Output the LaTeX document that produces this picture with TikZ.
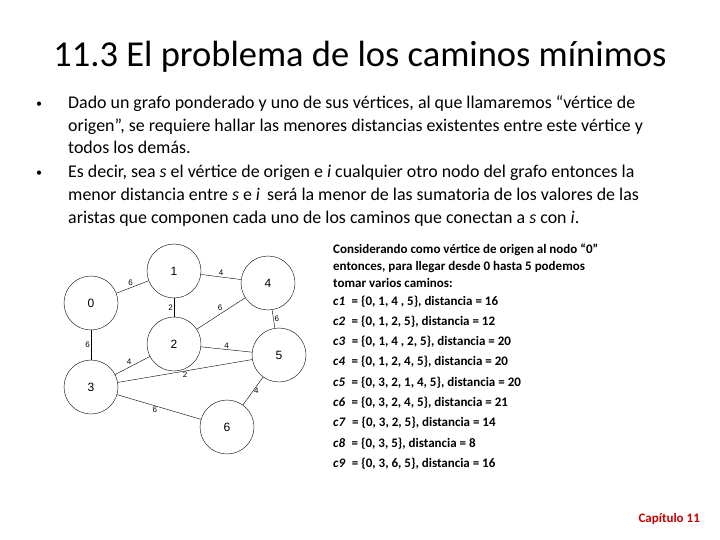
\documentclass[tikz,border=0pt]{standalone}
\usepackage{fontspec}
\setmainfont{Carlito}
\begin{document}
\begin{tikzpicture}[x=1pt,y=-1pt,
  vtx/.style={circle,draw,thin,minimum size=54pt,inner sep=0pt,font=\fontspec{Liberation Sans}\fontsize{12}{12}\selectfont},
  wl/.style={font=\fontspec{Liberation Sans}\fontsize{8}{8}\selectfont,inner sep=1pt},
  body/.style={anchor=base west,inner sep=0pt,font=\fontsize{17.9}{18}\selectfont},
  rt/.style={anchor=base west,inner sep=0pt,font=\bfseries\fontsize{13}{13}\selectfont}]
\useasboundingbox (0,0) rectangle (720,540);
\node[font=\fontsize{36.5}{37}\selectfont] (title) at (360,57) {11.3 El problema de los caminos mínimos};
\node[anchor=base west,inner sep=0pt,font=\fontsize{12}{12}\selectfont] (b1) at (36,108) {•};
\node[body] (l1) at (68,109) {Dado un grafo ponderado y uno de sus vértices, al que llamaremos “vértice de};
\node[body] (l2) at (68,132) {origen”, se requiere hallar las menores distancias existentes entre este vértice y};
\node[body] (l3) at (68,154) {todos los demás.};
\node[anchor=base west,inner sep=0pt,font=\fontsize{12}{12}\selectfont] (b2) at (36,177) {•};
\node[body] (l4) at (68,178) {Es decir, sea \textit{s} el vértice de origen e \textit{i} cualquier otro nodo del grafo entonces la};
\node[body] (l5) at (68,201) {menor distancia entre \textit{s} e \textit{i}\, será la menor de las sumatoria de los valores de las};
\node[body] (l6) at (68,224) {aristas que componen cada uno de los caminos que conectan a \textit{s} con \textit{i}.};

\node[vtx] (n0) at (91,303) {0};
\node[vtx] (n1) at (174,271) {1};
\node[vtx] (n4) at (268,283) {4};
\node[vtx] (n2) at (174,344) {2};
\node[vtx] (n5) at (279,355) {5};
\node[vtx] (n3) at (91,387) {3};
\node[vtx] (n6) at (227,427) {6};
\draw (n0) -- node[wl,above left,pos=.55]{6} (n1);
\draw (n1) -- node[wl,above]{4} (n4);
\draw (n1) -- node[wl,left]{2} (n2);
\draw (n2) -- node[wl,above left,pos=.55]{6} (n4);
\draw (n4) -- node[wl,right]{6} (n5);
\draw (n0) -- node[wl,left]{6} (n3);
\draw (n3) -- node[wl,above left]{4} (n2);
\draw (n2) -- node[wl,above]{4} (n5);
\draw (n3) -- node[wl,below]{2} (n5);
\draw (n5) -- node[wl,right]{4} (n6);
\draw (n3) -- node[wl,below,pos=.45]{6} (n6);

\node[rt] (r1) at (333,253) {Considerando como vértice de origen al nodo “0”};
\node[rt] (r2) at (333,270) {entonces, para llegar desde 0 hasta 5 podemos};
\node[rt] (r3) at (333,287) {tomar varios caminos:};
\node[rt] (c1) at (333,305.0) {\textit{c1}\; = \{0, 1, 4 , 5\}, distancia = 16};
\node[rt] (c2) at (333,325.3) {\textit{c2}\; = \{0, 1, 2, 5\}, distancia = 12};
\node[rt] (c3) at (333,345.6) {\textit{c3}\; = \{0, 1, 4 , 2, 5\}, distancia = 20};
\node[rt] (c4) at (333,365.9) {\textit{c4}\; = \{0, 1, 2, 4, 5\}, distancia = 20};
\node[rt] (c5) at (333,386.2) {\textit{c5}\; = \{0, 3, 2, 1, 4, 5\}, distancia = 20};
\node[rt] (c6) at (333,406.5) {\textit{c6}\; = \{0, 3, 2, 4, 5\}, distancia = 21};
\node[rt] (c7) at (333,426.8) {\textit{c7}\; = \{0, 3, 2, 5\}, distancia = 14};
\node[rt] (c8) at (333,447.1) {\textit{c8}\; = \{0, 3, 5\}, distancia = 8};
\node[rt] (c9) at (333,467.4) {\textit{c9}\; = \{0, 3, 6, 5\}, distancia = 16};
\node[anchor=base east,inner sep=0pt,text=red!80!black,font=\bfseries\fontsize{13}{13}\selectfont] (cap) at (700,522) {Capítulo 11};
\end{tikzpicture}
\end{document}
